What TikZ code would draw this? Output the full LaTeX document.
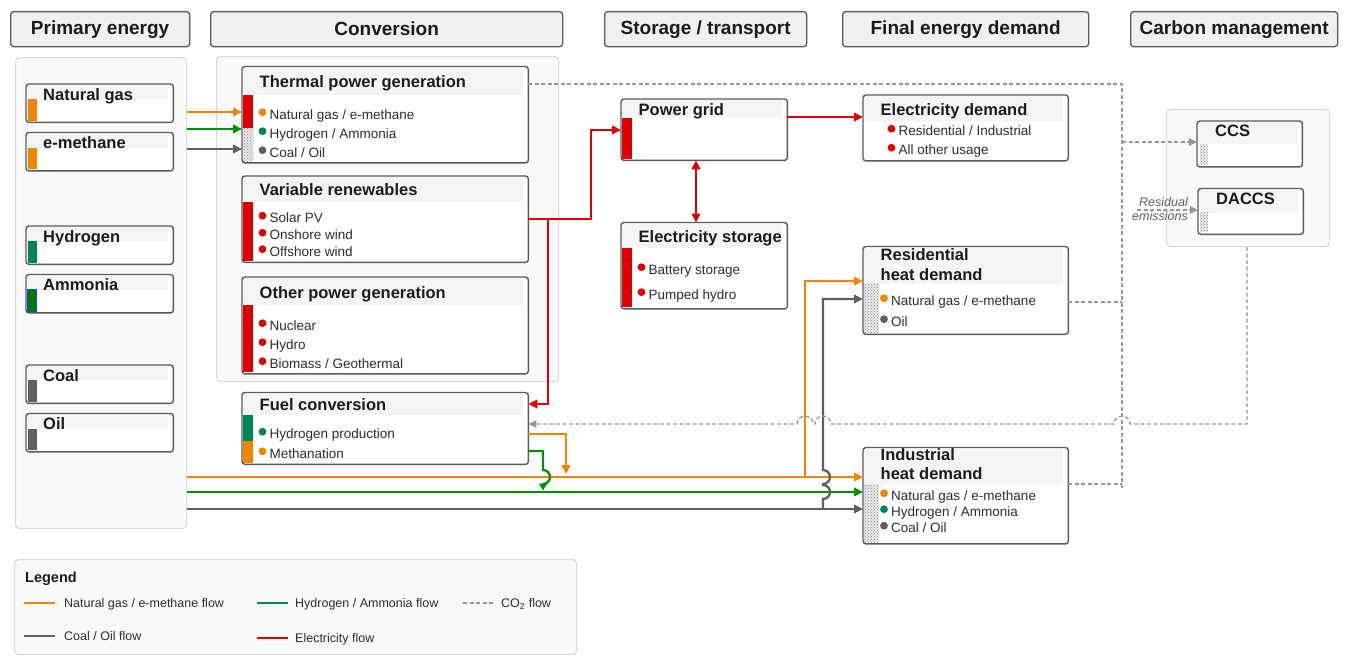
\documentclass[tikz,border=0pt]{standalone}
\usepackage{fontspec}
\setmainfont{Liberation Sans}
\usetikzlibrary{arrows.meta,patterns,calc}
\definecolor{cOr}{RGB}{243,132,0}
\definecolor{cGr}{RGB}{0,145,0}
\definecolor{cTe}{RGB}{0,133,88}
\definecolor{cDg}{RGB}{0,120,0}
\definecolor{cRd}{RGB}{224,0,0}
\definecolor{cGy}{RGB}{95,95,95}
\definecolor{cBd}{RGB}{90,90,90}
\definecolor{cCo}{RGB}{150,150,150}
\definecolor{cHd}{RGB}{238,240,243}
\definecolor{cPn}{RGB}{248,249,251}
\definecolor{cPb}{RGB}{214,218,224}
\definecolor{cBa}{RGB}{243,244,246}
\definecolor{cTx}{RGB}{28,28,28}
\definecolor{cIt}{RGB}{45,45,45}
\newcounter{tnc}
\tikzset{
 hdr/.style={draw=cBd, fill=cHd, line width=1.3pt, rounded corners=3pt, inner sep=0pt, anchor=north west,
   font=\fontsize{19}{22}\selectfont\bfseries, text=cTx},
 pnl/.style={draw=cPb, fill=cPn, line width=1.2pt, rounded corners=4pt, inner sep=0pt, anchor=north west},
 ebx/.style={fill=white, inner sep=0pt, anchor=north west, rounded corners=3pt},
 ebd/.style={draw=cBd, line width=1.4pt, rounded corners=3pt},
 ttl/.style={font=\fontsize{16.5}{19}\selectfont\bfseries, text=cTx, inner sep=0pt, anchor=base west},
 itx/.style={font=\fontsize{13.5}{16}\selectfont, text=cIt, inner sep=0pt, anchor=base west},
 lgx/.style={font=\fontsize{12.5}{15}\selectfont, text=cIt, inner sep=0pt, anchor=base west},
 flow/.style={line width=2.3pt},
 tip/.style={-{Triangle[length=9pt,width=8.5pt]}},
 co2/.style={draw=cCo, line width=1.3pt, dash pattern=on 4pt off 2.5pt},
 co2tip/.style={-{Triangle[length=8pt,width=7.5pt]}},
 dotbar/.style={pattern=crosshatch dots, pattern color=gray!90},
}
\newcommand\pbox[5]{%
  \node[ebx, minimum width=147, minimum height={#3-#2}] (#1) at (26,#2) {};
  \fill[cBa] (27.2,{#2+1.2}) rectangle (168,{#2+15});
  \fill[#4] (27.5,{#2+15}) rectangle (36.5,{#3-1.3});
  \node[ttl] (#1t) at (43,{#2+16}) {#5};
}
\newcommand\cbox[6]{%
  \node[ebx, minimum width={#4-#2}, minimum height={#5-#3}] (#1) at (#2,#3) {};
  \fill[cBa] ({#2+1.2},{#3+1.2}) rectangle ({#4-5},#6);
}
\newcommand\itm[4]{%
  \fill[#1] (#2,{#3-6.8}) circle (3.9pt);
  \stepcounter{tnc}%
  \node[itx] (it\arabic{tnc}) at ({#2+7},#3) {#4};
}
\newcommand\dbar[4]{%
  \fill[gray!18] (#1,#2) rectangle (#3,#4);
  \fill[dotbar] (#1,#2) rectangle (#3,#4);
}
\begin{document}
\begin{tikzpicture}[x=1pt,y=-1pt]
\useasboundingbox (0,0) rectangle (1347,664);
\fill[white] (0,0) rectangle (1347,664);

% headers
\node[hdr, minimum width=179, minimum height=35] (hPrim) at (10,11) {Primary energy};
\node[hdr, minimum width=352, minimum height=35] (hConv) at (210,11) {Conversion};
\node[hdr, minimum width=202, minimum height=35] (hStor) at (604,11) {Storage / transport};
\node[hdr, minimum width=246, minimum height=35] (hFin) at (842,11) {Final energy demand};
\node[hdr, minimum width=207, minimum height=35] (hCarb) at (1130,11) {Carbon management};

% panels
\node[pnl, minimum width=171, minimum height=471] (pPrim) at (15,57) {};
\node[pnl, minimum width=342, minimum height=325] (pConv) at (216,56) {};
\node[pnl, minimum width=163, minimum height=137] (pCarb) at (1166,109) {};

% primary energy boxes
\pbox{ng}{84}{122}{cOr}{Natural gas}
\pbox{em}{132.5}{170.5}{cOr}{e-methane}
\pbox{hy}{226}{264}{cTe}{Hydrogen}
\pbox{nh}{274.5}{312.5}{cDg}{Ammonia}
\draw[blue!70!cyan, line width=0.6pt] (27.5,289.5) rectangle (36.5,311.2);
\pbox{coal}{365}{403}{cGy}{Coal}
\pbox{oil}{413.5}{451.5}{cGy}{Oil}

% conversion boxes
\cbox{thermal}{242}{66.5}{528}{162.5}{94.5}
\fill[cRd] (243.2,94.5) rectangle (253.3,128);
\dbar{243.2}{128}{253.3}{161.3}
\node[ttl] (thermalT) at (259.5,87.5) {Thermal power generation};
\itm{cOr}{262.5}{119}{Natural gas / e-methane}
\itm{cTe}{262.5}{138}{Hydrogen / Ammonia}
\itm{cGy}{262.5}{157}{Coal / Oil}

\cbox{vr}{242}{176}{528}{262}{201.5}
\fill[cRd] (243.2,201.5) rectangle (253.3,260.8);
\node[ttl] (vrT) at (259.5,195) {Variable renewables};
\itm{cRd}{262.5}{222.5}{Solar PV}
\itm{cRd}{262.5}{239.5}{Onshore wind}
\itm{cRd}{262.5}{256}{Offshore wind}

\cbox{other}{242}{277}{528}{373.5}{305}
\fill[cRd] (243.2,305) rectangle (253.3,372.3);
\node[ttl] (otherT) at (259.5,298) {Other power generation};
\itm{cRd}{262.5}{330}{Nuclear}
\itm{cRd}{262.5}{349}{Hydro}
\itm{cRd}{262.5}{368}{Biomass / Geothermal}

\cbox{fuel}{242}{392.5}{528}{464}{414.5}
\fill[cTe] (243.2,414.5) rectangle (253.3,441);
\fill[cOr] (243.2,441) rectangle (253.3,462.8);
\node[ttl] (fuelT) at (259.5,410) {Fuel conversion};
\itm{cTe}{262.5}{438.5}{Hydrogen production}
\itm{cOr}{262.5}{458}{Methanation}

% storage / transport
\cbox{grid}{621}{99}{787}{160}{117.5}
\fill[cRd] (622.2,117.5) rectangle (632.3,158.8);
\node[ttl] (gridT) at (638.5,115) {Power grid};

\cbox{estor}{621}{222.5}{787}{308.5}{247.5}
\fill[cRd] (622.2,247.5) rectangle (632.3,307.3);
\node[ttl] (estorT) at (638.5,242) {Electricity storage};
\itm{cRd}{641.5}{274}{Battery storage}
\itm{cRd}{641.5}{299}{Pumped hydro}

% final energy demand
\cbox{edem}{863}{95}{1068}{160.5}{120.5}
\node[ttl] (edemT) at (880.5,115) {Electricity demand};
\itm{cRd}{891.5}{135.5}{Residential / Industrial}
\itm{cRd}{891.5}{154.5}{All other usage}

\cbox{rhd}{863}{246.5}{1068}{334}{283.5}
\dbar{864.2}{283.5}{879}{332.8}
\node[ttl] (rhdT1) at (880.5,260.5) {Residential};
\node[ttl] (rhdT2) at (880.5,280) {heat demand};
\itm{cOr}{884}{305}{Natural gas / e-methane}
\itm{cGy}{884}{326}{Oil}

\cbox{ihd}{863}{447.5}{1068}{543.5}{484.5}
\dbar{864.2}{484.5}{879}{542.3}
\node[ttl] (ihdT1) at (880.5,460) {Industrial};
\node[ttl] (ihdT2) at (880.5,479.5) {heat demand};
\itm{cOr}{884}{500}{Natural gas / e-methane}
\itm{cTe}{884}{516}{Hydrogen / Ammonia}
\itm{cGy}{884}{532.5}{Coal / Oil}

% carbon management
\cbox{ccs}{1197}{121}{1302}{166.5}{144}
\dbar{1199.5}{144.3}{1207.5}{164}
\node[ttl] (ccsT) at (1215,136) {CCS};

\cbox{daccs}{1198}{188.5}{1303}{234}{212.5}
\dbar{1200}{212.5}{1208}{232}
\node[ttl] (daccsT) at (1216,204.5) {DACCS};

% borders
\foreach \n in {ng,em,hy,nh,coal,oil,thermal,vr,other,fuel,grid,estor,edem,rhd,ihd,ccs,daccs}
  \draw[ebd] (\n.north west) rectangle (\n.south east);

% ---- connectors ----
% primary -> thermal
\draw[flow, cOr, tip] (pPrim.east |- 0,112) -- (thermal.west |- 0,112);
\draw[flow, cGr, tip] (pPrim.east |- 0,129) -- (thermal.west |- 0,129);
\draw[flow, cGy, tip] (pPrim.east |- 0,149) -- (thermal.west |- 0,149);

% main flows to industrial heat
\draw[flow, cOr, tip] (pPrim.east |- 0,477) -- (ihd.west |- 0,477);
\draw[flow, cGr, tip] (pPrim.east |- 0,492) -- (ihd.west |- 0,492);
\draw[flow, cGy, tip] (pPrim.east |- 0,509) -- (ihd.west |- 0,509);

% branches to residential heat
\coordinate (oj) at (805,477);
\draw[flow, cOr, tip] (oj) -- (805,281) -- (rhd.west |- 0,281);
\coordinate (gj) at (823,509);
\draw[flow, cGy, tip] (gj) -- (823,499) arc(-90:90:7pt) -- (823,484) arc(-90:90:7pt) -- (823,299) -- (rhd.west |- 0,299);

% fuel conversion outputs
\coordinate (foE) at (566,474);
\draw[flow, cOr, tip] (fuel.east |- 0,434) -- (566,434) -- (foE);
\coordinate (fgE) at (543,490.5);
\draw[flow, cGr, -{Triangle[length=7pt,width=8pt]}] (fuel.east |- 0,451) -- (543,451) -- (543,470) arc(90:-90:7pt) -- (fgE);

% electricity
\draw[flow, cRd, tip] (vr.east |- 0,219) -- (591,219) -- (591,130) -- (grid.west |- 0,130);
\coordinate (rj) at (548,219);
\draw[flow, cRd, tip] (rj) -- (548,404) -- (fuel.east |- 0,404);
\draw[flow, cRd, tip] (grid.east |- 0,117) -- (edem.west |- 0,117);
\draw[flow, cRd, {Triangle[length=9pt,width=8.5pt]}-{Triangle[length=9pt,width=8.5pt]}] (696,0 |- grid.south) -- (696,0 |- estor.north);

% CO2
\draw[co2] (thermal.east |- 0,84) -- (1122,84) -- (1122,488);
\draw[co2] (rhd.east |- 0,302) -- (1122,302);
\draw[co2] (ihd.east |- 0,484) -- (1122,484);
\draw[co2, co2tip, cCo] (1122,142) -- (ccs.west |- 0,142);
\coordinate (resS) at (1137,210);
\draw[co2, co2tip, cCo] (resS) -- (daccs.west |- 0,210);
\draw[co2, co2tip, cCo] (1247,0 |- pCarb.south) -- (1247,424) -- (1130,424) arc(0:180:8pt) -- (831,424) arc(0:180:8pt) -- (813,424) arc(0:180:8pt) -- (fuel.east |- 0,424);

\node[font=\fontsize{12.5}{14}\selectfont\itshape, text=gray!75!black, inner sep=0pt, anchor=base east] (resT1) at (1188,206.5) {Residual};
\node[font=\fontsize{12.5}{14}\selectfont\itshape, text=gray!75!black, inner sep=0pt, anchor=base east] (resT2) at (1188,220.5) {emissions};

% legend
\node[pnl, minimum width=562, minimum height=95] (leg) at (14,559) {};
\node[font=\fontsize{14.5}{17}\selectfont\bfseries, text=cTx, inner sep=0pt, anchor=base west] (legT) at (25,582.5) {Legend};
\draw[cOr, line width=2pt] (24,603) -- (55,603);
\node[lgx] (lg1) at (64,607.5) {Natural gas / e-methane flow};
\draw[cTe, line width=2pt] (257,603) -- (288,603);
\node[lgx] (lg2) at (295,607.5) {Hydrogen / Ammonia flow};
\draw[co2] (463,603) -- (494,603);
\node[lgx] (lg3) at (501,607.5) {CO\textsubscript{2} flow};
\draw[cGy, line width=2pt] (24,636) -- (55,636);
\node[lgx] (lg4) at (64,640.5) {Coal / Oil flow};
\draw[cRd, line width=2pt] (257,638) -- (288,638);
\node[lgx] (lg5) at (295,642.5) {Electricity flow};
\end{tikzpicture}
\end{document}
